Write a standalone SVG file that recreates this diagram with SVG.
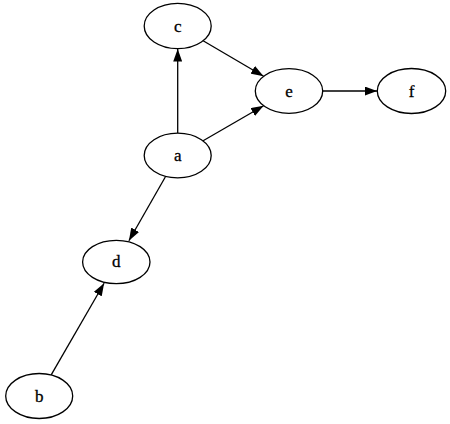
<svg xmlns="http://www.w3.org/2000/svg" width="450" height="424" viewBox="0 0 450 424">
<defs>
<marker id="arr" markerWidth="12.6" markerHeight="9" refX="12.6" refY="4.5" orient="auto" markerUnits="userSpaceOnUse">
<path d="M0,0 L12.6,4.5 L0,9 Z" fill="#000"/>
</marker>
<style>
.node ellipse{fill:#fff;stroke:#000;stroke-width:1.3}
.node text{font-family:"Liberation Serif","Times New Roman",serif;font-size:17px;text-anchor:middle;fill:#000;stroke:#000;stroke-width:0.3}
.edges line{stroke:#000;stroke-width:1.3;marker-end:url(#arr)}
</style>
</defs>
<rect width="450" height="424" fill="#fff"/>
<g id="edges" class="edges">
<line x1="177.7" y1="133.2" x2="177.7" y2="49"/>
<line x1="203.1" y1="40.8" x2="263.6" y2="76.2"/>
<line x1="203.1" y1="140.8" x2="263.6" y2="105.7"/>
<line x1="322.7" y1="91" x2="377.3" y2="91"/>
<line x1="165.3" y1="177" x2="128.9" y2="240.7"/>
<line x1="51.2" y1="374.9" x2="104.1" y2="283.2"/>
</g>
<g id="node-c" class="node"><ellipse cx="177.7" cy="26" rx="33.5" ry="22.7"/><text x="177.7" y="31.5">c</text></g>
<g id="node-e" class="node"><ellipse cx="289" cy="91" rx="33.7" ry="22.3"/><text x="289" y="96.5">e</text></g>
<g id="node-f" class="node"><ellipse cx="411.5" cy="91" rx="34.2" ry="22.5"/><text x="411.5" y="96.5">f</text></g>
<g id="node-a" class="node"><ellipse cx="177.7" cy="155.5" rx="33.5" ry="22.3"/><text x="177.7" y="161">a</text></g>
<g id="node-d" class="node"><ellipse cx="116.3" cy="262" rx="33.7" ry="21.7"/><text x="116.3" y="267.3">d</text></g>
<g id="node-b" class="node"><ellipse cx="39.2" cy="396" rx="33.5" ry="22.5"/><text x="39.2" y="401.5">b</text></g>
</svg>
